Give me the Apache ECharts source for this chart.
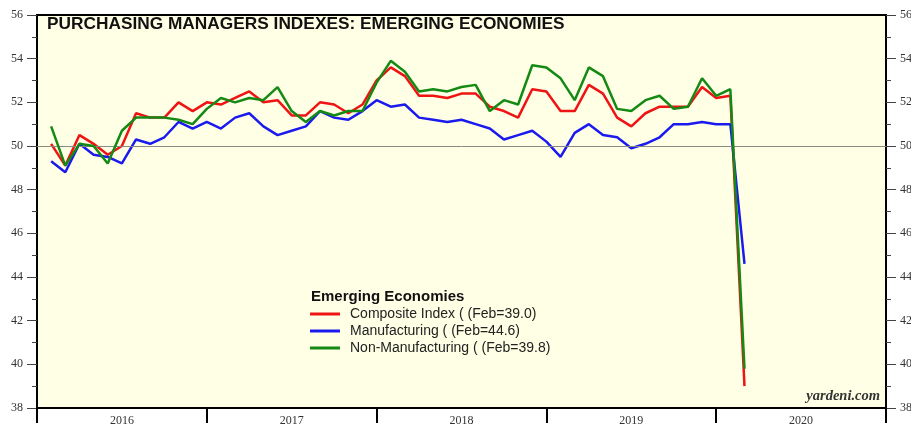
<!DOCTYPE html>
<html><head><meta charset="utf-8">
<script src="https://cdn.jsdelivr.net/npm/echarts@6/dist/echarts.min.js"></script>
<style>html,body{margin:0;padding:0;background:#fff}#c{width:911px;height:440px}</style>
</head><body><div id="c"></div>
<script>
// Monthly data Jan 2016 .. Feb 2020 (plotted at month end)
const years = ['2016','2017','2018','2019','2020'];
const composite = [50.1,49.1,50.5,50.1,49.6,50.0,51.5,51.3,51.3,52.0,51.6,52.0,51.9,52.2,52.5,52.0,52.1,51.4,51.4,52.0,51.9,51.5,51.9,53.0,53.6,53.2,52.3,52.3,52.2,52.4,52.4,51.8,51.6,51.3,52.6,52.5,51.6,51.6,52.8,52.4,51.3,50.9,51.5,51.8,51.8,51.8,52.7,52.2,52.3,39.0];
const manufacturing = [49.3,48.8,50.1,49.6,49.5,49.2,50.3,50.1,50.4,51.1,50.8,51.1,50.8,51.3,51.5,50.9,50.5,50.7,50.9,51.6,51.3,51.2,51.6,52.1,51.8,51.9,51.3,51.2,51.1,51.2,51.0,50.8,50.3,50.5,50.7,50.2,49.5,50.6,51.0,50.5,50.4,49.9,50.1,50.4,51.0,51.0,51.1,51.0,51.0,44.6];
const nonManufacturing = [50.9,49.1,50.1,50.0,49.2,50.7,51.3,51.3,51.3,51.2,51.0,51.7,52.2,52.0,52.2,52.1,52.7,51.6,51.1,51.6,51.4,51.6,51.6,52.9,53.9,53.4,52.5,52.6,52.5,52.7,52.8,51.6,52.1,51.9,53.7,53.6,53.1,52.1,53.6,53.2,51.7,51.6,52.1,52.3,51.7,51.8,53.1,52.3,52.6,39.8];
const seriesNames = ['Composite Index ( (Feb=39.0)','Manufacturing ( (Feb=44.6)','Non-Manufacturing ( (Feb=39.8)'];
const seriesColors = ['#ee1414','#1a1aee','#148a14'];
const allData = [composite, manufacturing, nonManufacturing];

const toPts = arr => arr.map((v,i)=>[i+1, v]);
const labelFont = {fontFamily:'"Liberation Serif","DejaVu Serif",serif', fontSize:12, color:'#333'};

const yBase = {
  type:'value', min:38, max:56, interval:2,
  axisLine:{show:true, lineStyle:{color:'#000', width:2}},
  axisTick:{show:true, length:10, lineStyle:{color:'#444', width:1}},
  minorTick:{show:true, splitNumber:2, length:5, lineStyle:{color:'#444', width:1}},
  splitLine:{show:false},
  axisLabel:Object.assign({margin:14}, labelFont)
};

const series = allData.map((d,k)=>({
  name: seriesNames[k], type:'line', xAxisIndex:1, yAxisIndex:0,
  data: toPts(d), showSymbol:false, symbol:'none',
  lineStyle:{color:seriesColors[k], width:2.5}, itemStyle:{color:seriesColors[k]},
  z: 3+k, animation:false,
  markLine: k===0 ? {silent:true, symbol:'none', label:{show:false},
    lineStyle:{color:'#8a8a80', width:1, type:'solid'}, data:[{yAxis:50}], animation:false} : undefined
}));

const chart = echarts.init(document.getElementById('c'));
chart.setOption({
  animation:false,
  backgroundColor:'#ffffff',
  grid:{left:37, right:25, top:15, bottom:32, show:true, backgroundColor:'#ffffe6', borderColor:'#000', borderWidth:2, outerBoundsMode:'none', containLabel:false},
  xAxis:[
    {type:'category', data:years, boundaryGap:true, position:'bottom',
     axisLine:{lineStyle:{color:'#000', width:2}},
     axisTick:{show:true, length:15, interval:0, lineStyle:{color:'#000', width:2}},
     axisLabel:Object.assign({margin:7, interval:0}, labelFont)},
    {type:'value', min:0, max:60, show:false}
  ],
  yAxis:[
    Object.assign({position:'left'}, yBase),
    Object.assign({position:'right'}, yBase)
  ],
  legend:{
    show:true, orient:'vertical', left:305, top:302, itemWidth:30, itemHeight:3, itemGap:3,
    icon:'rect', data:seriesNames,
    textStyle:{fontFamily:'"Liberation Sans",Arial,sans-serif', fontSize:14, color:'#222', padding:[0,0,0,5]}, selectedMode:false
  },
  graphic:[
    {type:'text', left:47, top:16, style:{text:'PURCHASING MANAGERS INDEXES: EMERGING ECONOMIES', font:'bold 17.3px "Liberation Sans",Arial,sans-serif', fill:'#111'}},
    {type:'text', left:311, top:289, style:{text:'Emerging Economies', font:'bold 15px "Liberation Sans",Arial,sans-serif', fill:'#111'}},
    {type:'text', right:31, top:389, style:{text:'yardeni.com', font:'italic bold 14.5px "Liberation Serif","DejaVu Serif",serif', fill:'#333'}}
  ],
  series: series
});
</script></body></html>
